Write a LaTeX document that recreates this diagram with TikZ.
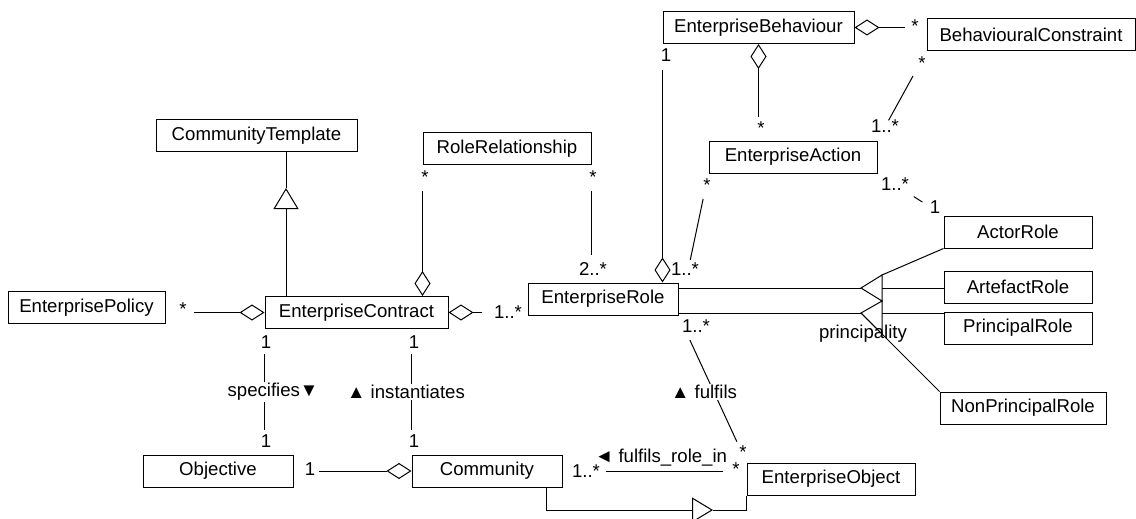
\documentclass[tikz,border=0pt]{standalone}
\usepackage{fontspec}
\setmainfont{Liberation Sans}
\usetikzlibrary{arrows.meta}
\tikzset{every node/.style={font=\fontsize{18.6pt}{22pt}\selectfont}}
\tikzset{
  cls/.style={draw, line width=1pt, minimum height=32pt, inner sep=2pt},
  assoc/.style={line width=1pt},
  aggr/.style={assoc, {Diamond[open, length=25pt, width=16pt]}-},
  gen/.style={assoc, -{Triangle[open, length=21pt, width=25pt]}},
  mult/.style={anchor=base, inner sep=0pt},
  rolename/.style={fill=white, inner sep=1pt}
}

\begin{document}
\begin{tikzpicture}[x=1pt, y=-1pt]
    \useasboundingbox[fill=white] (0,0) rectangle (1136,519);
    % classes
    \node[cls, minimum width=191pt] (eb) at (758.5,27.5) {EnterpriseBehaviour};
    \node[cls, minimum width=208pt] (bc) at (1031,35) {BehaviouralConstraint};
    \node[cls, minimum width=168pt] (ea) at (793,157) {EnterpriseAction};
    \node[cls, minimum width=201pt] (ct) at (256.5,135.5) {CommunityTemplate};
    \node[cls, minimum width=168pt] (rr) at (507,148.5) {RoleRelationship};
    \node[cls, minimum width=157pt] (ep) at (86.5,307.5) {EnterprisePolicy};
    \node[cls, minimum width=183pt] (ec) at (356.5,312.5) {EnterpriseContract};
    \node[cls, minimum width=150pt] (er) at (603,299) {EnterpriseRole};
    \node[cls, minimum width=148pt] (ar) at (1018,232) {ActorRole};
    \node[cls, minimum width=148pt] (af) at (1018,287) {ArtefactRole};
    \node[cls, minimum width=148pt] (pr) at (1018,328) {PrincipalRole};
    \node[cls, minimum width=166pt] (npr) at (1023,408) {NonPrincipalRole};
    \node[cls, minimum width=150pt] (ob) at (218,471) {Objective};
    \node[cls, minimum width=150pt] (cm) at (487,471) {Community};
    \node[cls, minimum width=168pt] (eo) at (831,479) {EnterpriseObject};

    % generalisation to CommunityTemplate
    \coordinate (ctTip) at (286,188);
    \draw[gen] (ec.north -| ctTip) -- (ctTip);
    \draw[assoc] (ctTip) -- (ct.south -| ctTip);

    % aggregations
    \draw[aggr, shorten >=26pt] (rr.south west |- ec.north) -- (rr.south west);
    \draw[aggr, shorten >=26pt] (er.north -| eb.south west) -- (eb.south west);
    \draw[aggr, shorten >=24pt] (eb.south) -- (eb.south |- ea.north);
    \draw[aggr, shorten >=22pt] (eb.east) -- (eb.east -| bc.west);
    \draw[aggr, shorten >=28pt] (ec.west) -- (ec.west -| ep.east);
    \draw[aggr, shorten >=46pt] (ec.east) -- (ec.east -| er.west);
    \draw[aggr, shorten >=25pt] (cm.west) -- (cm.west -| ob.east);

    % associations
    \draw[assoc, shorten <=28pt, shorten >=26pt] (er.north -| rr.south east) -- (rr.south east);
    \draw[assoc, shorten <=23pt, shorten >=26pt] ([xshift=7pt]er.north east) -- (ea.south west);
    \draw[assoc, shorten <=23pt, shorten >=28pt] (ea.north east) -- (bc.south west);
    \draw[assoc, shorten <=43pt, shorten >=25pt] (ea.south east) -- (ar.north west);
    \draw[assoc, shorten <=27pt, shorten >=23pt] (er.south east) -- (eo.north west);
    \draw[assoc, shorten <=25pt, shorten >=25pt] (ec.south west) -- (ec.south west |- ob.north);
    \draw[assoc, shorten <=25pt, shorten >=25pt] (cm.north west |- ec.south) -- (cm.north west);
    \draw[assoc, shorten <=43pt, shorten >=24pt] (cm.east) -- (cm.east -| eo.west);

    % principality
    \coordinate (prA) at (861,288);
    \coordinate (prB) at (861,313);
    \coordinate (prTop) at (882,275);
    \coordinate (prMid) at (882,301);
    \coordinate (prBot) at (882,334);
    \draw[assoc] (prA) -- (prTop) -- (prMid) -- cycle;
    \draw[assoc] (prB) -- (prMid) -- (prBot) -- cycle;
    \draw[assoc] (er.east |- prA) -- (prA);
    \draw[assoc] (er.east |- prB) -- (prB);
    \draw[assoc] (prTop) -- (ar.south west);
    \draw[assoc] (prA -| prTop) -- (prA -| af.west);
    \draw[assoc] (prB -| prTop) -- (prB -| pr.west);
    \draw[assoc] (prB) -- (npr.north west);
    \node[mult] (prLbl) at (863,338) {principality};

    % generalisation to EnterpriseObject
    \coordinate (eoTip) at (713,510);
    \draw[gen] ([xshift=59pt]cm.south) |- (eoTip);
    \draw[assoc] (eoTip) -| (eo.south west);

    % association names
    \node[rolename] (lblSpec) at (273,392) {specifies▼};
    \node[rolename] (lblInst) at (406,392) {▲ instantiates};
    \node[rolename] (lblFulf) at (704,392) {▲ fulfils};
    \node[inner sep=1pt] (lblRoleIn) at (661,458) {◄ fulfils\_role\_in};

    % multiplicities
    \node[mult] (m1) at (666,62) {1};
    \node[mult] (m2) at (761,135) {*};
    \node[mult] (m3) at (915,33) {*};
    \node[mult] (m4) at (922,70) {*};
    \node[mult] (m5) at (885,132) {1..*};
    \node[mult] (m6) at (895,190) {1..*};
    \node[mult] (m7) at (935,213) {1};
    \node[mult] (m8) at (707,191) {*};
    \node[mult] (m9) at (685,275) {1..*};
    \node[mult] (m10) at (425,183) {*};
    \node[mult] (m11) at (593,183) {*};
    \node[mult] (m12) at (593,275) {2..*};
    \node[mult] (m13) at (183,315) {*};
    \node[mult] (m14) at (508,318) {1..*};
    \node[mult] (m15) at (696,332) {1..*};
    \node[mult] (m16) at (743,458) {*};
    \node[mult] (m17) at (266,348) {1};
    \node[mult] (m18) at (266,447) {1};
    \node[mult] (m19) at (414,348) {1};
    \node[mult] (m20) at (414,447) {1};
    \node[mult] (m21) at (310,475) {1};
    \node[mult] (m22) at (586,477) {1..*};
    \node[mult] (m23) at (736,475) {*};
  \end{tikzpicture}
\end{document}
